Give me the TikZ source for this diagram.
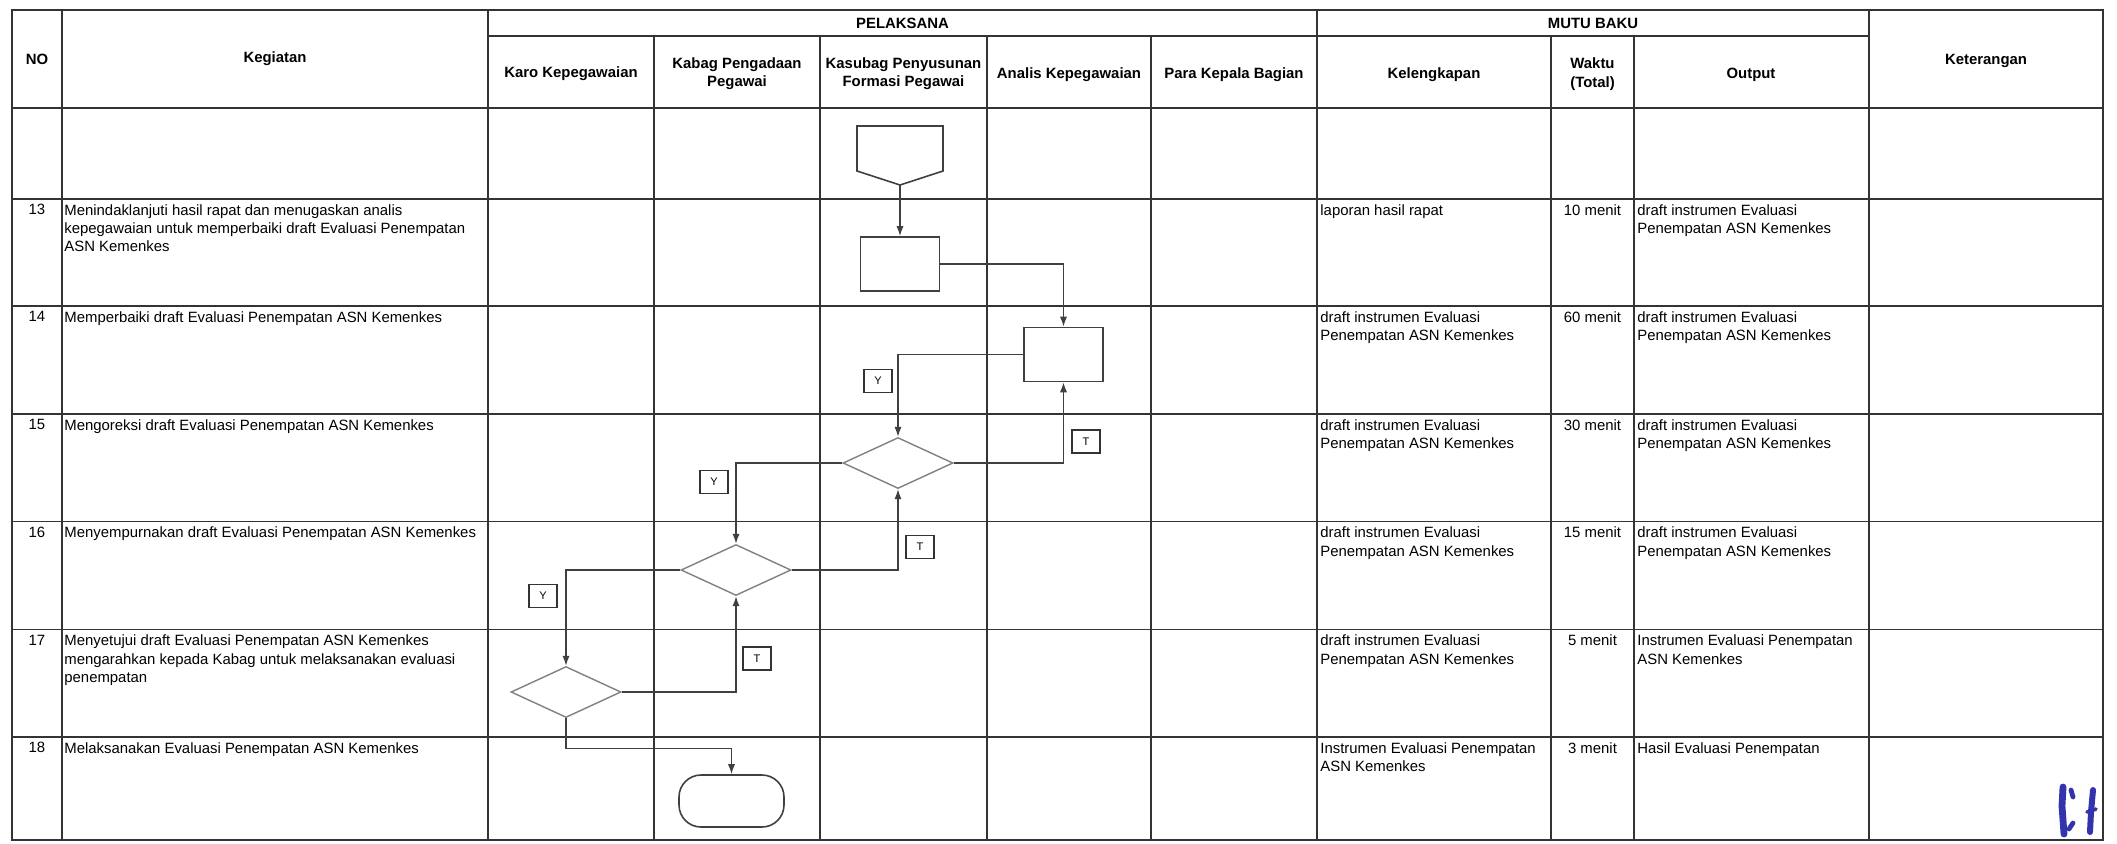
\documentclass[tikz,border=0pt]{standalone}
\usepackage{fontspec}
\setmainfont{Liberation Sans}
\usetikzlibrary{shapes.geometric,arrows.meta}

\begin{document}
\begin{tikzpicture}[x=0.5pt, y=-0.5pt,
        every node/.style={font=\fontsize{7.45}{9.15}\selectfont, inner sep=0pt},
        head/.style={font=\fontsize{7.45}{9.15}\selectfont\bfseries, align=center},
        cell/.style={anchor=north west, align=left},
        num/.style={anchor=north},
        grid/.style={draw=black!80, line width=0.9pt},
        flow/.style={draw=black!75, line width=0.7pt},
        flowarrow/.style={flow, -{Latex[length=5pt,width=3.6pt]}},
        proc/.style={draw=black!75, line width=0.8pt, minimum width=39.5pt, minimum height=27pt},
        decision/.style={diamond, draw=black!50, line width=0.7pt, minimum width=55pt, minimum height=25.5pt},
        answer/.style={draw=black!80, line width=0.7pt, minimum width=14pt, minimum height=11.5pt, font=\fontsize{5.5}{6}\selectfont},
        paraf/.style={draw=blue!60!black!80, line cap=round, line join=round}]

            \useasboundingbox (0,0) rectangle (2117,843);

            % Draw the outer frame and the header lines
            \draw[grid] (12,10) rectangle (2103,840);
            \draw[grid] (488,36) -- (1869,36);
            \draw[grid] (12,108) -- (2103,108);

            % Draw the row lines
            \draw[grid] (12,199) -- (2103,199);
            \draw[grid] (12,306) -- (2103,306);
            \draw[grid] (12,414) -- (2103,414);
            \draw[grid] (12,521.5) -- (2103,521.5);
            \draw[grid] (12,629.5) -- (2103,629.5);
            \draw[grid] (12,737) -- (2103,737);

            % Draw the column lines
            \draw[grid] (62,10) -- (62,840);
            \draw[grid] (488,10) -- (488,840);
            \draw[grid] (654,36) -- (654,840);
            \draw[grid] (820,36) -- (820,840);
            \draw[grid] (987,36) -- (987,840);
            \draw[grid] (1151,36) -- (1151,840);
            \draw[grid] (1317,10) -- (1317,840);
            \draw[grid] (1551,36) -- (1551,840);
            \draw[grid] (1634,36) -- (1634,840);
            \draw[grid] (1869,10) -- (1869,840);

            % Header texts
            \node[head] (hNo) at (37,59) {NO};
            \node[head] (hKeg) at (275,59) {Kegiatan};
            \node[head] (hPel) at (902.5,23) {PELAKSANA};
            \node[head] (hMutu) at (1593,23) {MUTU BAKU};
            \node[head] (hKet) at (1986,61) {Keterangan};
            \node[head] (hKaro) at (571,74) {Karo Kepegawaian};
            \node[head] (hKabag) at (737,74) {Kabag Pengadaan\\Pegawai};
            \node[head] (hKasubag) at (903.5,74) {Kasubag Penyusunan\\Formasi Pegawai};
            \node[head] (hAnalis) at (1069,75) {Analis Kepegawaian};
            \node[head] (hPara) at (1234,75) {Para Kepala Bagian};
            \node[head] (hKel) at (1434,75) {Kelengkapan};
            \node[head] (hWaktu) at (1592.5,74) {Waktu\\(Total)};
            \node[head] (hOut) at (1751,75) {Output};

            % Row 13
            \node[num] (no13) at (37,204) {13};
            \node[cell] (keg13) at (64,204) {Menindaklanjuti hasil rapat dan menugaskan analis\\kepegawaian untuk memperbaiki draft Evaluasi Penempatan\\ASN Kemenkes};
            \node[cell] (kel13) at (1320,204) {laporan hasil rapat};
            \node[num] (wkt13) at (1592.5,204) {10 menit};
            \node[cell] (out13) at (1637,204) {draft instrumen Evaluasi\\Penempatan ASN Kemenkes};

            % Row 14
            \node[num] (no14) at (37,311) {14};
            \node[cell] (keg14) at (64,311) {Memperbaiki draft Evaluasi Penempatan ASN Kemenkes};
            \node[cell] (kel14) at (1320,311) {draft instrumen Evaluasi\\Penempatan ASN Kemenkes};
            \node[num] (wkt14) at (1592.5,311) {60 menit};
            \node[cell] (out14) at (1637,311) {draft instrumen Evaluasi\\Penempatan ASN Kemenkes};

            % Row 15
            \node[num] (no15) at (37,419) {15};
            \node[cell] (keg15) at (64,419) {Mengoreksi draft Evaluasi Penempatan ASN Kemenkes};
            \node[cell] (kel15) at (1320,419) {draft instrumen Evaluasi\\Penempatan ASN Kemenkes};
            \node[num] (wkt15) at (1592.5,419) {30 menit};
            \node[cell] (out15) at (1637,419) {draft instrumen Evaluasi\\Penempatan ASN Kemenkes};

            % Row 16
            \node[num] (no16) at (37,526.5) {16};
            \node[cell] (keg16) at (64,526.5) {Menyempurnakan draft Evaluasi Penempatan ASN Kemenkes};
            \node[cell] (kel16) at (1320,526.5) {draft instrumen Evaluasi\\Penempatan ASN Kemenkes};
            \node[num] (wkt16) at (1592.5,526.5) {15 menit};
            \node[cell] (out16) at (1637,526.5) {draft instrumen Evaluasi\\Penempatan ASN Kemenkes};

            % Row 17
            \node[num] (no17) at (37,634.5) {17};
            \node[cell] (keg17) at (64,634.5) {Menyetujui draft Evaluasi Penempatan ASN Kemenkes\\mengarahkan kepada Kabag untuk melaksanakan evaluasi\\penempatan};
            \node[cell] (kel17) at (1320,634.5) {draft instrumen Evaluasi\\Penempatan ASN Kemenkes};
            \node[num] (wkt17) at (1592.5,634.5) {5 menit};
            \node[cell] (out17) at (1637,634.5) {Instrumen Evaluasi Penempatan\\ASN Kemenkes};

            % Row 18
            \node[num] (no18) at (37,742) {18};
            \node[cell] (keg18) at (64,742) {Melaksanakan Evaluasi Penempatan ASN Kemenkes};
            \node[cell] (kel18) at (1320,742) {Instrumen Evaluasi Penempatan\\ASN Kemenkes};
            \node[num] (wkt18) at (1592.5,742) {3 menit};
            \node[cell] (out18) at (1637,742) {Hasil Evaluasi Penempatan};

            % Draw the off-page connector
            \draw[flow, line width=0.8pt] (857,126) -- (943,126) -- (943,171) -- (900,185) -- (857,171) -- cycle;
            \coordinate (connTip) at (900,185);

            % Draw the flowchart shapes
            \node[proc] (procA) at (900,264) {};
            \node[proc] (procB) at (1063.5,354.5) {};
            \node[decision] (decA) at (898,463) {};
            \node[decision] (decB) at (736,570) {};
            \node[decision] (decC) at (566,692) {};
            \node[draw=black!75, line width=0.8pt, rounded corners=11pt, minimum width=52.5pt, minimum height=26pt] (finish) at (731.5,801) {};

            % Draw the connectors
            \draw[flowarrow] (connTip) -- (procA.north);
            \draw[flowarrow] (procA.east) -| (procB.north);
            \draw[flowarrow] (procB.west) -| (decA.north);
            \draw[flowarrow] (decA.east) -| (procB.south);
            \draw[flowarrow] (decA.west) -| (decB.north);
            \draw[flowarrow] (decB.east) -| (decA.south);
            \draw[flowarrow] (decB.west) -| (decC.north);
            \draw[flowarrow] (decC.east) -| (decB.south);
            \draw[flowarrow] (decC.south) -- ++(0,30) -| (finish.north);

            % Draw the Y and T labels
            \node[answer] (yA) at (878,381) {Y};
            \node[answer] (tA) at (1086,441.5) {T};
            \node[answer] (yB) at (714,482) {Y};
            \node[answer] (tB) at (920,547) {T};
            \node[answer] (yC) at (543,596) {Y};
            \node[answer] (tC) at (757,658.5) {T};

            % Paraf
            \draw[paraf, line width=3.4pt] (2063,787) -- (2062,806) -- (2064,834);
            \draw[paraf, line width=2.4pt] (2071,790) -- (2073,797);
            \draw[paraf, line width=2.4pt] (2069,829) -- (2073,823);
            \draw[paraf, line width=3pt] (2093,790) -- (2091,812) -- (2090,832);
            \draw[paraf, line width=1.8pt] (2087,812) -- (2096,809);

        \end{tikzpicture}
\end{document}
